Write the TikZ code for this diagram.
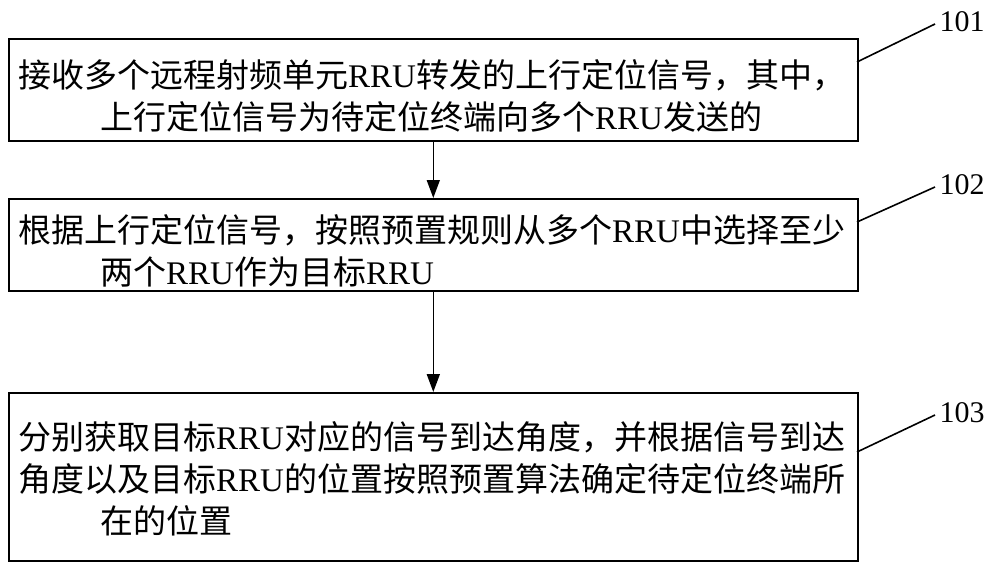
\documentclass[tikz,border=0pt]{standalone}
\usepackage{fontspec}
\setmainfont{Noto Sans CJK SC}
\newfontfamily\lat{Liberation Serif}
\usetikzlibrary{arrows.meta}
\newcommand{\R}{{\lat RRU}}
\begin{document}
\begin{tikzpicture}[x=1pt,y=-1pt,
  box/.style={draw,line width=1.6pt},
  txt/.style={anchor=west,inner sep=0,font=\fontsize{33}{33}\selectfont},
  num/.style={inner sep=0,font=\lat\fontsize{30}{30}\selectfont},
  arr/.style={-{Triangle[length=18pt,width=13pt]},line width=1.6pt}]
\useasboundingbox (0,0) rectangle (1000,570);
\node[box,minimum width=849,minimum height=102,anchor=north west] (b1) at (8,38) {};
\node[box,minimum width=849,minimum height=92,anchor=north west] (b2) at (8,198) {};
\node[box,minimum width=849,minimum height=168,anchor=north west] (b3) at (8,392) {};
\node[txt] (t11) at (18,75) {接收多个远程射频单元\R 转发的上行定位信号，其中，};
\node[txt] (t12) at (100,117) {上行定位信号为待定位终端向多个\R 发送的};
\node[txt] (t21) at (18,230) {根据上行定位信号，按照预置规则从多个\R 中选择至少};
\node[txt] (t22) at (100,272) {两个\R 作为目标\R};
\node[txt] (t31) at (18,437) {分别获取目标\R 对应的信号到达角度，并根据信号到达};
\node[txt] (t32) at (18,479) {角度以及目标\R 的位置按照预置算法确定待定位终端所};
\node[txt] (t33) at (100,521) {在的位置};
\draw[arr] (b1.south) -- (b2.north);
\draw[arr] (b2.south) -- (b3.north);
\node[num] (n1) at (962,22) {101};
\node[num] (n2) at (962,185) {102};
\node[num] (n3) at (962,413) {103};
\coordinate (c1) at (857,62); \coordinate (d1) at (935,24);
\coordinate (c2) at (857,222); \coordinate (d2) at (935,187);
\coordinate (c3) at (857,452); \coordinate (d3) at (935,415);
\draw[line width=1.6pt] (c1) -- (d1);
\draw[line width=1.6pt] (c2) -- (d2);
\draw[line width=1.6pt] (c3) -- (d3);
\end{tikzpicture}
\end{document}
